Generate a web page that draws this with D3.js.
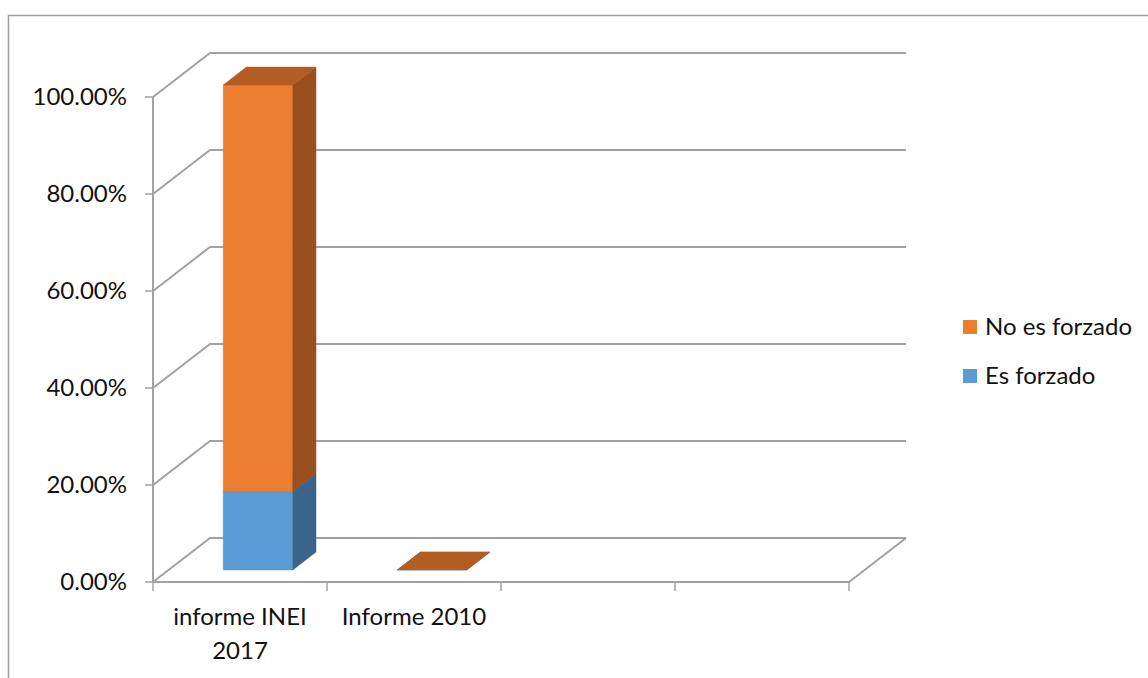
<!DOCTYPE html>
<html>
<head>
<meta charset="utf-8">
<script src="https://cdn.jsdelivr.net/npm/d3@7"></script>
<style>
html,body{margin:0;padding:0;background:#fff;}
svg{display:block;}
text{font-family:Lato,"Open Sans",sans-serif;fill:#111;}
</style>
</head>
<body>
<svg id="chart" width="1148" height="678"></svg>
<script>
// ---- data ----
const categories = ["informe INEI 2017", "Informe 2010", "", ""];
const categoryLines = [["informe INEI", "2017"], ["Informe 2010"], [], []];
const seriesNames = ["Es forzado", "No es forzado"];
const esForzado = [0.162, 0, null, null];
const noEsForzado = [0.838, 0, null, null];
const yTicks = [0, 0.2, 0.4, 0.6, 0.8, 1.0];
const legendOrder = ["No es forzado", "Es forzado"];

// ---- styles ----
const colors = {
  "Es forzado": {front: "#5B9BD5", side: "#3A6489", top: "#4A7DB0"},
  "No es forzado": {front: "#ED7D31", side: "#9A4F1E", top: "#B45D22"}
};
const gridColor = "#a2a2a2";
const FS = 24;

const svg = d3.select("#chart");

// outer frame
svg.append("rect").attr("x", 8.5).attr("y", 15.5).attr("width", 1300).attr("height", 800)
  .attr("fill", "none").attr("stroke", "#a0a0a0").attr("stroke-width", 1.5);

const x = d3.scaleBand().domain(categories.map((c, i) => i)).range([153, 849]);
const y = d3.scaleLinear().domain([0, 1]).range([582, 97]);
const DX = 57, DY = 44; // full depth offset
const P = (px, py, d) => [px + d * DX, py - d * DY];

const g = svg.append("g");

// back wall gridlines + side diagonals
yTicks.forEach(t => {
  const yy = y(t);
  const a = P(x.range()[0], yy, 0), b = P(x.range()[0], yy, 1), c = P(x.range()[1], yy, 1);
  g.append("polyline")
    .attr("points", [a, b, c].map(p => p.join(",")).join(" "))
    .attr("fill", "none").attr("stroke", gridColor).attr("stroke-width", 2);
});
// floor front edge and right edge
{
  const y0 = y(0);
  const a = P(x.range()[0], y0, 0), b = P(x.range()[1], y0, 0), c = P(x.range()[1], y0, 1);
  g.append("polyline").attr("points", [a, b, c].map(p => p.join(",")).join(" "))
    .attr("fill", "none").attr("stroke", gridColor).attr("stroke-width", 2);
}
// front y axis line
g.append("line").attr("x1", x.range()[0]).attr("x2", x.range()[0]).attr("y1", y(1)).attr("y2", y(0))
  .attr("stroke", gridColor).attr("stroke-width", 2);
// y ticks and labels
yTicks.forEach(t => {
  g.append("line").attr("x1", x.range()[0] - 8).attr("x2", x.range()[0]).attr("y1", y(t)).attr("y2", y(t))
    .attr("stroke", gridColor).attr("stroke-width", 1.5);
  g.append("text").attr("x", 127).attr("y", y(t)).attr("dy", "0.35em")
    .attr("text-anchor", "end").attr("font-size", FS)
    .text(d3.format(".2%")(t));
});
// x ticks
const xTickPos = categories.map((c, i) => x(i)).concat([x.range()[1]]);
xTickPos.forEach(px => {
  g.append("line").attr("x1", px).attr("x2", px).attr("y1", y(0)).attr("y2", y(0) + 9)
    .attr("stroke", gridColor).attr("stroke-width", 1.5);
});
// x labels
categoryLines.forEach((lines, i) => {
  lines.forEach((ln, j) => {
    g.append("text").attr("x", x(i) + x.bandwidth() / 2).attr("y", 617 + j * 34).attr("dy", "0.35em")
      .attr("text-anchor", "middle").attr("font-size", FS).text(ln);
  });
});

// bars (3D stacked)
const d0 = 0.273, d1 = 0.68;
const bw = x.bandwidth();
const seriesVals = {"Es forzado": esForzado, "No es forzado": noEsForzado};
categories.forEach((c, i) => {
  let base = 0;
  seriesNames.forEach(s => {
    const v = seriesVals[s][i];
    if (v === null || v === undefined) return;
    const x0 = x(i) + bw * 0.314, x1 = x0 + bw * 0.4;
    const yb = y(base), yt = y(base + v);
    const col = colors[s];
    const poly = (pts, fill) => g.append("polygon").attr("points", pts.map(p => p.join(",")).join(" "))
      .attr("fill", fill).attr("stroke", fill).attr("stroke-width", 0.5);
    if (v > 0) {
      poly([P(x0, yb, d0), P(x1, yb, d0), P(x1, yt, d0), P(x0, yt, d0)], col.front);
      poly([P(x1, yb, d0), P(x1, yb, d1), P(x1, yt, d1), P(x1, yt, d0)], col.side);
    }
    poly([P(x0, yt, d0), P(x1, yt, d0), P(x1, yt, d1), P(x0, yt, d1)], col.top);
    base += v;
  });
});

// legend
legendOrder.forEach((s, k) => {
  const ly = 327 + k * 49;
  svg.append("rect").attr("x", 963).attr("y", ly - 7).attr("width", 14).attr("height", 14)
    .attr("fill", colors[s].front);
  svg.append("text").attr("x", 985).attr("y", ly).attr("dy", "0.35em").attr("font-size", FS).text(s);
});
</script>
</body>
</html>
